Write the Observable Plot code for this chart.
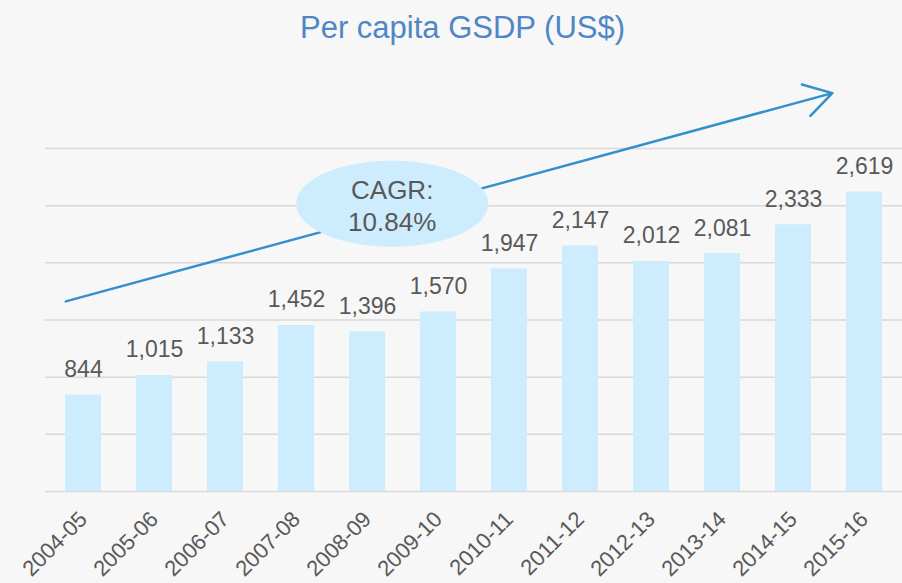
<!DOCTYPE html>
<html>
<head>
<meta charset="utf-8">
<script src="https://cdn.jsdelivr.net/npm/d3@7"></script>
<script src="https://cdn.jsdelivr.net/npm/@observablehq/plot@0.6"></script>
<style>
  html, body { margin: 0; padding: 0; background: #f7f7f7; }
  #wrap { width: 902px; height: 583px; overflow: hidden; background: #f7f7f7; }
  #title { height: 60px; box-sizing: border-box; padding-top: 12px; padding-left: 23px;
    text-align: center; font-family: "Liberation Sans", Arial, sans-serif; font-size: 31px;
    line-height: 31px; color: #4f86c6; }
  svg { display: block; }
</style>
</head>
<body>
<div id="wrap">
  <div id="title">Per capita GSDP (US$)</div>
  <div id="chart"></div>
</div>
<script>
// Data
const years = ["2004-05","2005-06","2006-07","2007-08","2008-09","2009-10","2010-11","2011-12","2012-13","2013-14","2014-15","2015-16"];
const gsdp = [844, 1015, 1133, 1452, 1396, 1570, 1947, 2147, 2012, 2081, 2333, 2619];
const gridValues = [0, 500, 1000, 1500, 2000, 2500, 3000];
// CAGR trend arrow annotation (start/end in data units)
const trendFrom = ["2004-05", 1663];
const trendTo = ["2015-16", 3519];
// CAGR bubble annotation
const cagrAt = ["2008-09", 2517];
const cagrText = "CAGR:\n10.84%";

const data = years.map((y, i) => ({year: y, value: gsdp[i]}));

const barColor = "#cdecfd";
const textColor = "#595959";
const font = "Liberation Sans, Arial, sans-serif";

const k = 0.5523;
const ellipseSymbol = {
  draw(ctx) {
    const rx = 96, ry = 43;
    ctx.moveTo(rx, 0);
    ctx.bezierCurveTo(rx, ry * k, rx * k, ry, 0, ry);
    ctx.bezierCurveTo(-rx * k, ry, -rx, ry * k, -rx, 0);
    ctx.bezierCurveTo(-rx, -ry * k, -rx * k, -ry, 0, -ry);
    ctx.bezierCurveTo(rx * k, -ry, rx, -ry * k, rx, 0);
    ctx.closePath();
  }
};

const chart = Plot.plot({
  width: 902,
  height: 523,
  marginLeft: 45,
  marginRight: 0,
  marginTop: 88,
  marginBottom: 92,
  style: {background: "transparent", fontFamily: font},
  x: {domain: years, paddingInner: 0.5, paddingOuter: 0.25, label: null},
  y: {domain: [0, 3000], axis: null},
  marks: [
    Plot.gridY(gridValues, {stroke: "#d9d9d9", strokeOpacity: 1, strokeWidth: 1.5}),
    Plot.barY(data, {x: "year", y: "value", fill: barColor}),
    Plot.text(data, {x: "year", y: "value", text: d => d3.format(",")(d.value),
      lineAnchor: "bottom", dy: -18, fontSize: 23, fill: textColor}),
    Plot.arrow([0], {x1: () => trendFrom[0], y1: () => trendFrom[1], x2: () => trendTo[0], y2: () => trendTo[1],
      dx: -17.7, insetEnd: 15, stroke: "#3390cc", strokeWidth: 2.5, headLength: 19, headAngle: 62}),
    Plot.dot([0], {x: () => cagrAt[0], y: () => cagrAt[1], dx: 24.7, symbol: ellipseSymbol,
      fill: barColor, stroke: "none"}),
    Plot.text([0], {x: () => cagrAt[0], y: () => cagrAt[1], dx: 24.7, dy: 1, text: () => cagrText,
      fontSize: 26, lineHeight: 1.23, fill: textColor}),
    Plot.axisX({tickRotate: -45, tickSize: 0, tickPadding: 24, fontSize: 22, fill: textColor, label: null})
  ]
});
document.getElementById("chart").appendChild(chart);
</script>
</body>
</html>
